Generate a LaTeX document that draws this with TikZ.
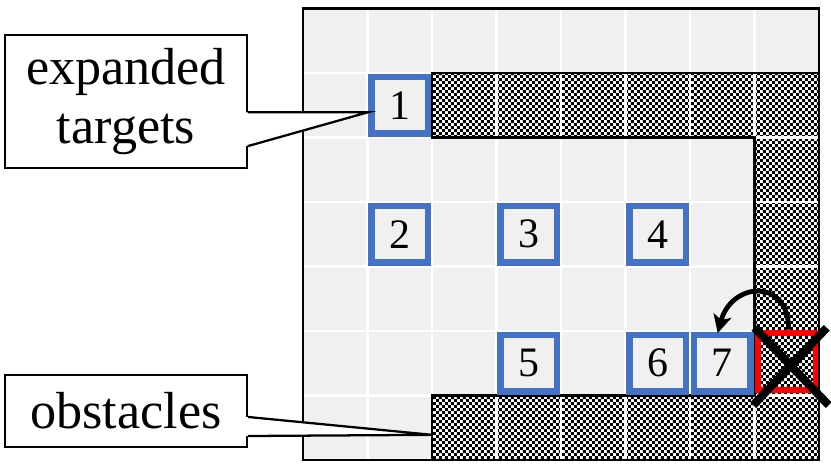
\documentclass[tikz,border=0pt]{standalone}
\usepackage{fontspec}
\setmainfont{Liberation Serif}
\usetikzlibrary{patterns,arrows.meta}
\pgfdeclarepatternformonly{finechecker}{\pgfpointorigin}{\pgfqpoint{2.6pt}{2.6pt}}{\pgfqpoint{2.6pt}{2.6pt}}{%
  \pgfpathrectangle{\pgfpointorigin}{\pgfqpoint{1.3pt}{1.3pt}}%
  \pgfpathrectangle{\pgfqpoint{1.3pt}{1.3pt}}{\pgfqpoint{1.3pt}{1.3pt}}%
  \pgfusepath{fill}}
\definecolor{cellgray}{HTML}{F0F0F0}
\definecolor{tblue}{HTML}{4472C4}
\definecolor{xred}{HTML}{FF0000}
\tikzset{
  tbox/.style={draw=tblue, line width=2.8pt, minimum size=0.875cm, inner sep=0pt,
    font=\fontsize{18.5}{18.5}\selectfont},
  rbox/.style={draw=xred, line width=2.6pt, minimum size=0.89cm, inner sep=0pt},
  calloutbox/.style={draw=black, fill=white, line width=1pt, inner sep=0pt,
    minimum width=3.752cm, align=center, font=\fontsize{23}{25.7}\selectfont},
  calloutline/.style={draw=black, line width=1pt, line join=miter},
  xline/.style={line width=3.6pt, black},
  arr/.style={line width=2.1pt, black, -{Stealth[length=8pt,width=8pt,inset=2pt]}},
}
\begin{document}
\begin{tikzpicture}
\useasboundingbox (-4.6977,-0.1085) rectangle (8.186,7.1318);
% cells
\fill[cellgray] (0,0) rectangle (8,7);
% obstacles
\def\obst{(2,6) -- (8,6) -- (8,0) -- (2,0) -- (2,1) -- (7,1) -- (7,5) -- (2,5) -- cycle}
\fill[white] \obst;
\fill[pattern=finechecker] \obst;
% grid lines
\draw[white, line width=1.3pt] (0,0) grid (8,7);
\draw[black, line width=1.1pt, line join=miter] \obst;
\draw[black, line width=1pt] (0,0) rectangle (8,7);
% targets
\node[tbox] (t1) at (1.5,5.5) {1};
\node[tbox] (t2) at (1.5,3.5) {2};
\node[tbox] (t3) at (3.5,3.5) {3};
\node[tbox] (t4) at (5.5,3.5) {4};
\node[tbox] (t5) at (3.5,1.5) {5};
\node[tbox] (t6) at (5.5,1.5) {6};
\node[tbox] (t7) at (6.5,1.5) {7};
\node[rbox] (r) at (7.5,1.53) {};
% cross
\draw[xline] ([shift={(-0.5,0.52)}]r.center) -- ([shift={(0.65,-0.68)}]r.center);
\draw[xline] ([shift={(0.62,0.52)}]r.center) -- ([shift={(-0.52,-0.68)}]r.center);
% curved arrow
\draw[arr] ([xshift=0.03cm]r.north) to[out=90,in=75,looseness=1.9] ([xshift=-0.07cm,yshift=-0.02cm]t7.north);
% callout: expanded targets
\node[calloutbox, minimum height=2.062cm] (et) at (-2.744,5.558) {expanded\\targets};
\coordinate (etA) at ([yshift=-0.168cm]et.east);
\coordinate (etB) at ([yshift=-0.69cm]et.east);
\coordinate (etT) at ([xshift=-0.01cm,yshift=-0.11cm]t1.west);
\fill[white] ([xshift=-1pt]etA) -- (etT) -- ([xshift=-1pt]etB) -- cycle;
\draw[calloutline] (etA) -- (etT) -- (etB);
% callout: obstacles
\node[calloutbox, minimum height=1.116cm] (ob) at (-2.744,0.76) {obstacles};
\coordinate (obA) at ([yshift=-0.093cm]ob.east);
\coordinate (obB) at ([yshift=-0.388cm]ob.east);
\coordinate (obT) at (2,0.39);
\fill[white] ([xshift=-1pt]obA) -- (obT) -- ([xshift=-1pt]obB) -- cycle;
\draw[calloutline] (obA) -- (obT) -- (obB);
\end{tikzpicture}
\end{document}
